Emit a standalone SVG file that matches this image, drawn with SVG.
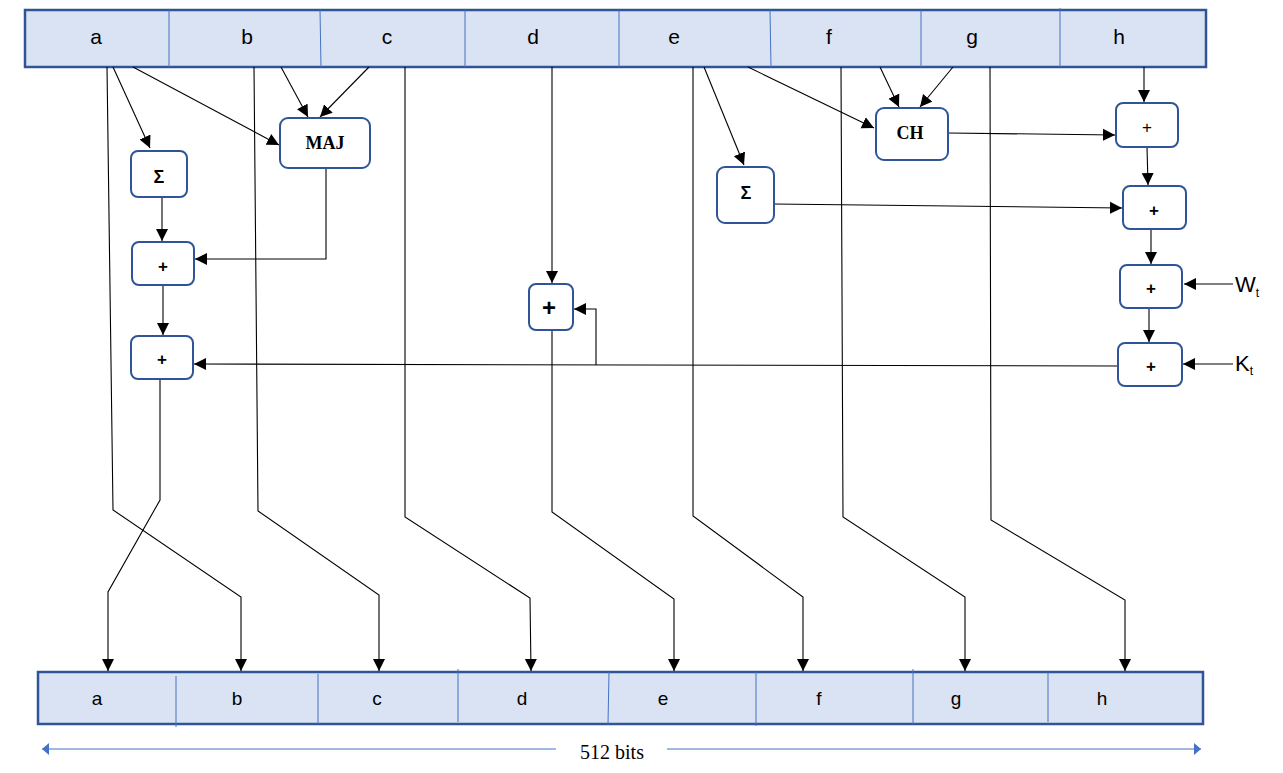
<svg xmlns="http://www.w3.org/2000/svg" width="1283" height="773" viewBox="0 0 1283 773">
<defs>
<marker id="ah" markerUnits="userSpaceOnUse" markerWidth="14" markerHeight="14" refX="12" refY="6.5" orient="auto"><path d="M0,0.5 L12,6.5 L0,12.5 z" fill="#000"/></marker>
<marker id="bh" markerUnits="userSpaceOnUse" markerWidth="10" markerHeight="14" refX="7" refY="7" orient="auto-start-reverse"><path d="M0,1 L7,7 L0,13 z" fill="#4472C4"/></marker>
<style>
.bar{fill:#DAE3F3;stroke:#2F5597;stroke-width:2.5}
.div{stroke:#4472C4;stroke-width:1}
.box{fill:#fff;stroke:#2F5597;stroke-width:2}
.ln{fill:none;stroke:#000;stroke-width:1.1}
.ar{marker-end:url(#ah)}
.reg{font-family:"Liberation Sans",Arial,sans-serif;fill:#000;text-anchor:middle}
.top{font-size:21px}
.bot{font-size:19px}
.ser{font-family:"Liberation Serif","Times New Roman",serif;font-weight:bold;text-anchor:middle;fill:#000}
.pl{font-family:"Liberation Sans",Arial,sans-serif;text-anchor:middle;dominant-baseline:central;fill:#000}
</style>
</defs>
<rect width="1283" height="773" fill="#fff"/>
<g id="top-register">
<rect class="bar" x="25" y="10" width="1181" height="57"/>
<line class="div" x1="169" y1="10" x2="169" y2="67"/>
<line class="div" x1="320" y1="10" x2="321" y2="67"/>
<line class="div" x1="465" y1="10" x2="465" y2="67"/>
<line class="div" x1="619" y1="10" x2="619" y2="67"/>
<line class="div" x1="770" y1="10" x2="771" y2="67"/>
<line class="div" x1="921" y1="10" x2="921" y2="67"/>
<line class="div" x1="1060" y1="8" x2="1060" y2="67"/>
<g class="reg top">
<text x="96" y="44">a</text><text x="247" y="44">b</text><text x="387" y="44">c</text><text x="533" y="44">d</text>
<text x="674" y="44">e</text><text x="829" y="44">f</text><text x="972" y="44">g</text><text x="1119" y="44">h</text>
</g>
</g>
<g id="bottom-register">
<rect class="bar" x="38" y="672" width="1165" height="52"/>
<line class="div" x1="176" y1="676" x2="176" y2="727"/>
<line class="div" x1="318" y1="674" x2="318" y2="724"/>
<line class="div" x1="458" y1="669" x2="458" y2="722"/>
<line class="div" x1="609" y1="672" x2="608" y2="724"/>
<line class="div" x1="756" y1="672" x2="756" y2="726"/>
<line class="div" x1="913" y1="669" x2="913" y2="724"/>
<line class="div" x1="1048" y1="672" x2="1048" y2="722"/>
<g class="reg bot">
<text x="97" y="705">a</text><text x="237" y="705">b</text><text x="377" y="705">c</text><text x="522" y="705">d</text>
<text x="663" y="705">e</text><text x="819" y="705">f</text><text x="956" y="705">g</text><text x="1102" y="705">h</text>
</g>
</g>
<g id="width-label">
<line x1="42" y1="749" x2="556" y2="749" stroke="#4472C4" stroke-width="1.2" marker-start="url(#bh)"/>
<line x1="667" y1="749" x2="1201" y2="749" stroke="#4472C4" stroke-width="1.2" marker-end="url(#bh)"/>
<text x="612" y="759" font-family="Liberation Serif,'Times New Roman',serif" font-size="20" text-anchor="middle" fill="#000">512 bits</text>
</g>
<g id="connectors">
<path class="ln ar" d="M113,67 L150,148"/>
<path class="ln ar" d="M133,67 L279,145"/>
<path class="ln ar" d="M281,67 L308,117"/>
<path class="ln ar" d="M369,67 L320,117"/>
<path class="ln ar" d="M162,197 L162,241"/>
<path class="ln ar" d="M326,168 L326,259 L195,259"/>
<path class="ln ar" d="M163,285 L163,335"/>
<path class="ln ar" d="M1118,366 L194,364"/>
<path class="ln ar" d="M596,365 L596,309 L574,309"/>
<path class="ln ar" d="M552,67 L552,283"/>
<path class="ln ar" d="M704,67 L744,165"/>
<path class="ln ar" d="M748,67 L874,128"/>
<path class="ln ar" d="M880,67 L899,107"/>
<path class="ln ar" d="M953,67 L920,107"/>
<path class="ln ar" d="M948,133 L1115,135"/>
<path class="ln ar" d="M1144,67 L1144,102"/>
<path class="ln ar" d="M1147,147 L1148,185"/>
<path class="ln ar" d="M774,204 L1122,208"/>
<path class="ln ar" d="M1151,229 L1151,264"/>
<path class="ln ar" d="M1149,308 L1149,342"/>
<path class="ln ar" d="M1233,284 L1184,284"/>
<path class="ln ar" d="M1233,364 L1183,364"/>
<path class="ln ar" d="M107,67 L113,510 L241,597 L241,671"/>
<path class="ln ar" d="M160,379 L160,500 L108,592 L108,671"/>
<path class="ln ar" d="M254,67 L258,511 L379,595 L379,671"/>
<path class="ln ar" d="M405,67 L405,517 L530,598 L531,671"/>
<path class="ln ar" d="M552,330 L552,512 L674,599 L674,671"/>
<path class="ln ar" d="M693,67 L693,516 L803,597 L803,671"/>
<path class="ln ar" d="M841,67 L843,517 L965,597 L965,671"/>
<path class="ln ar" d="M990,67 L991,520 L1125,600 L1125,671"/>
</g>
<g id="sigma-a"><rect class="box" x="131" y="151" width="56" height="46" rx="7"/><text class="pl" x="159" y="177" font-size="18" font-weight="bold">Σ</text></g>
<g id="maj"><rect class="box" x="280" y="118" width="90" height="50" rx="8"/><text class="ser" x="325" y="149" font-size="18">MAJ</text></g>
<g id="add-t1"><rect class="box" x="132" y="242" width="62" height="43" rx="7"/><text class="pl" x="163" y="266" font-size="17" font-weight="bold">+</text></g>
<g id="add-t2"><rect class="box" x="131" y="336" width="62" height="43" rx="7"/><text class="pl" x="162" y="359" font-size="17" font-weight="bold">+</text></g>
<g id="add-d"><rect class="box" x="529" y="284" width="44" height="46" rx="7"/><text class="pl" x="549" y="307" font-size="24" font-weight="bold">+</text></g>
<g id="sigma-e"><rect class="box" x="717" y="167" width="57" height="56" rx="8"/><text class="pl" x="746" y="193" font-size="18" font-weight="bold">Σ</text></g>
<g id="ch"><rect class="box" x="876" y="108" width="72" height="52" rx="8"/><text class="ser" x="910" y="139" font-size="18">CH</text></g>
<g id="add-h"><rect class="box" x="1116" y="103" width="62" height="44" rx="7"/><text class="pl" x="1147" y="127" font-size="17">+</text></g>
<g id="add-sigma"><rect class="box" x="1123" y="186" width="63" height="43" rx="7"/><text class="pl" x="1154" y="210" font-size="17" font-weight="bold">+</text></g>
<g id="add-w"><rect class="box" x="1120" y="265" width="62" height="43" rx="7"/><text class="pl" x="1151" y="288" font-size="17" font-weight="bold">+</text></g>
<g id="add-k"><rect class="box" x="1118" y="343" width="64" height="43" rx="7"/><text class="pl" x="1151" y="366" font-size="17" font-weight="bold">+</text></g>
<g id="wt"><text x="1235" y="292" font-family="Liberation Sans,Arial,sans-serif" font-size="22" fill="#000">W<tspan font-size="12" dy="5">t</tspan></text></g>
<g id="kt"><text x="1235" y="371" font-family="Liberation Sans,Arial,sans-serif" font-size="22" fill="#000">K<tspan font-size="12" dy="4">t</tspan></text></g>
</svg>
